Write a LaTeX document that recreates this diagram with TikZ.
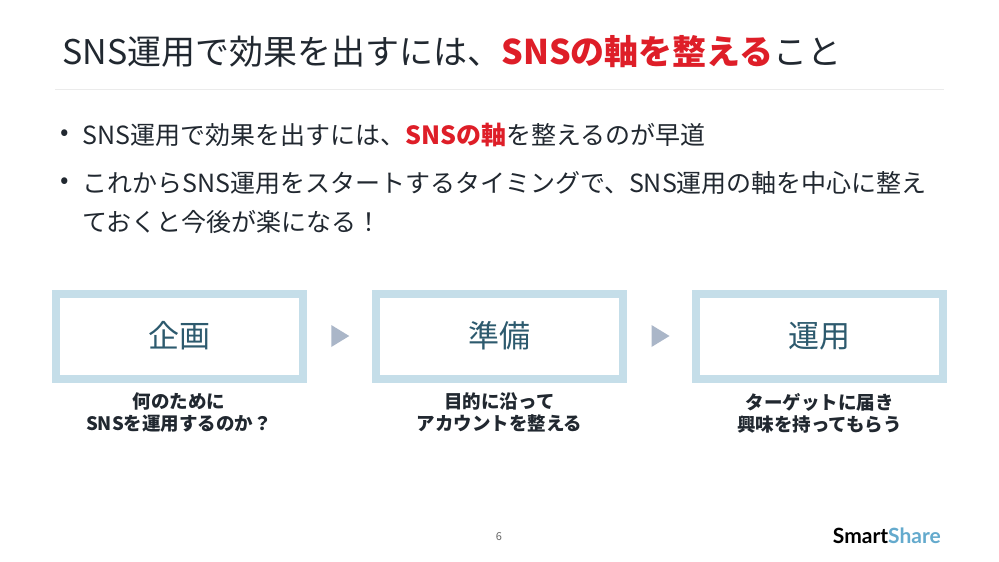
\documentclass[tikz,border=0pt]{standalone}
\usepackage{fontspec}
\setmainfont{Noto Sans CJK JP}
\newfontfamily\logofont{Lato}
\usetikzlibrary{positioning, calc}
\definecolor{inkdark}{RGB}{33,40,48}
\definecolor{accentred}{RGB}{222,30,40}
\definecolor{boxblue}{RGB}{197,222,233}
\definecolor{boxtext}{RGB}{45,90,110}
\definecolor{tri}{RGB}{170,182,200}
\definecolor{logoblue}{RGB}{100,170,205}
\tikzset{
stagebox/.style={rectangle, draw=boxblue, line width=8pt, minimum width=247pt, minimum height=85pt, text=boxtext, font=\fontsize{31}{31}\selectfont},
caption/.style={align=center, text=inkdark, font=\bfseries\fontsize{18.5}{22}\selectfont},
bullettext/.style={anchor=west, inner sep=0, text=inkdark, font=\fontsize{25}{25}\selectfont}
}
\begin{document}
\begin{tikzpicture}[x=1pt,y=-1pt]
\useasboundingbox[fill=white] (0,0) rectangle (999,562);
% title
\node[anchor=west, inner sep=0, text=inkdark, font=\fontsize{34}{34}\selectfont] (title) at (62,52) {SNS運用で効果を出すには、{\color{accentred}\bfseries SNSの軸を整える}こと};
\coordinate (ruleL) at (55,89);
\coordinate (ruleR) at (944,89);
\draw[black!8, line width=0.8pt] (ruleL) -- (ruleR);
% bullets
\node[bullettext] (dot1) at (60,135) {•};
\node[bullettext] (b1) at (82,135) {SNS運用で効果を出すには、{\color{accentred}\bfseries SNSの軸}を整えるのが早道};
\node[bullettext] (dot2) at (60,183) {•};
\node[bullettext] (b2) at (82,183) {これからSNS運用をスタートするタイミングで、SNS運用の軸を中心に整え};
\node[bullettext] (b3) at (82,222) {ておくと今後が楽になる！};
% stages
\node[stagebox] (plan) at (179,336) {企画};
\node[stagebox] (prep) at (499.5,336) {準備};
\node[stagebox] (run) at (819.5,336) {運用};
\foreach \a/\b in {plan/prep, prep/run}
  \fill[tri] ($(\a.east)!0.5!(\b.west)+(-8,-11)$) -- ++(18,11) -- ++(-18,11) -- cycle;
\node[caption] (planc) [below=7pt of plan] {何のために\\SNSを運用するのか？};
\node[caption] (prepc) [below=7pt of prep] {目的に沿って\\アカウントを整える};
\node[caption] (runc) [below=7pt of run] {ターゲットに届き\\興味を持ってもらう};
% footer
\node[text=black!60, font=\fontsize{11}{11}\selectfont] (page) at (499,537) {6};
\node[anchor=east, inner sep=0, font=\logofont\bfseries\fontsize{21}{21}\selectfont] (logo) at (941,536) {\color{black}Smart\color{logoblue}Share};
\end{tikzpicture}
\end{document}
